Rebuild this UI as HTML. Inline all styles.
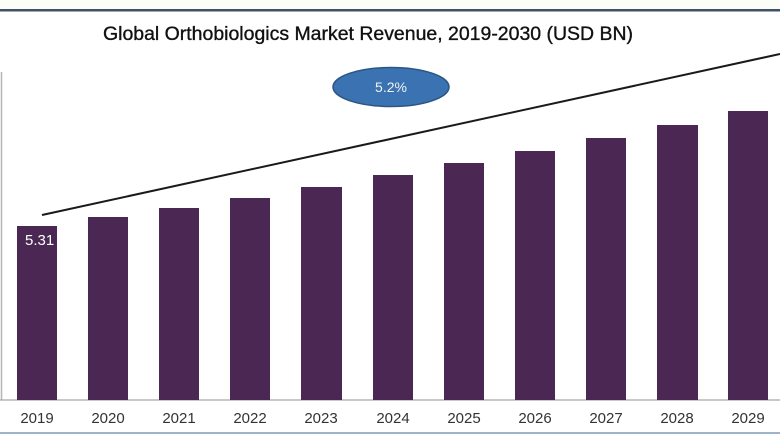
<!DOCTYPE html>
<html><head><meta charset="utf-8"><style>
html,body{margin:0;padding:0;background:#fff;}
svg{display:block;}
</style></head><body>
<svg width="780" height="440" viewBox="0 0 780 440" xmlns="http://www.w3.org/2000/svg" font-family="Liberation Sans, sans-serif">
<rect x="0" y="0" width="780" height="440" fill="#ffffff"/>
<rect x="0" y="0" width="780" height="9" fill="#fdfdf8"/>
<rect x="0" y="9" width="780" height="2.5" fill="#3e4f66"/>
<text x="103" y="40" font-size="19" fill="#111" stroke="#111" stroke-width="0.35" textLength="530" lengthAdjust="spacingAndGlyphs">Global Orthobiologics Market Revenue, 2019-2030 (USD BN)</text>
<line x1="1.5" y1="72" x2="1.5" y2="400" stroke="#b5b5b5" stroke-width="1.5"/>
<line x1="0" y1="400" x2="780" y2="400" stroke="#a8a8a8" stroke-width="1.2"/>
<g fill="#4b2853">
<rect x="17" y="226" width="40" height="174"/>
<rect x="88" y="217" width="40" height="183"/>
<rect x="159" y="208" width="40" height="192"/>
<rect x="230" y="198" width="40" height="202"/>
<rect x="301" y="187" width="41" height="213"/>
<rect x="373" y="175" width="40" height="225"/>
<rect x="444" y="163" width="40" height="237"/>
<rect x="515" y="151" width="40" height="249"/>
<rect x="586" y="138" width="40" height="262"/>
<rect x="657" y="125" width="41" height="275"/>
<rect x="728" y="111" width="40" height="289"/>
</g>
<line x1="42" y1="215" x2="780" y2="54" stroke="#1a1a1a" stroke-width="2"/>
<ellipse cx="391" cy="87" rx="58" ry="19.5" fill="#3a72b2" stroke="#2c5684" stroke-width="1.5"/>
<text x="391" y="92" font-size="14" fill="#f2f2f2" text-anchor="middle">5.2%</text>
<text x="25" y="245" font-size="15" fill="#ffffff">5.31</text>
<g font-size="15" fill="#333" text-anchor="middle">
<text x="37" y="423">2019</text>
<text x="108" y="423">2020</text>
<text x="179" y="423">2021</text>
<text x="250" y="423">2022</text>
<text x="321" y="423">2023</text>
<text x="393" y="423">2024</text>
<text x="464" y="423">2025</text>
<text x="535" y="423">2026</text>
<text x="606" y="423">2027</text>
<text x="677" y="423">2028</text>
<text x="748" y="423">2029</text>
</g>
<rect x="0" y="432" width="780" height="2" fill="#9fb4c9"/>
</svg>
</body></html>
